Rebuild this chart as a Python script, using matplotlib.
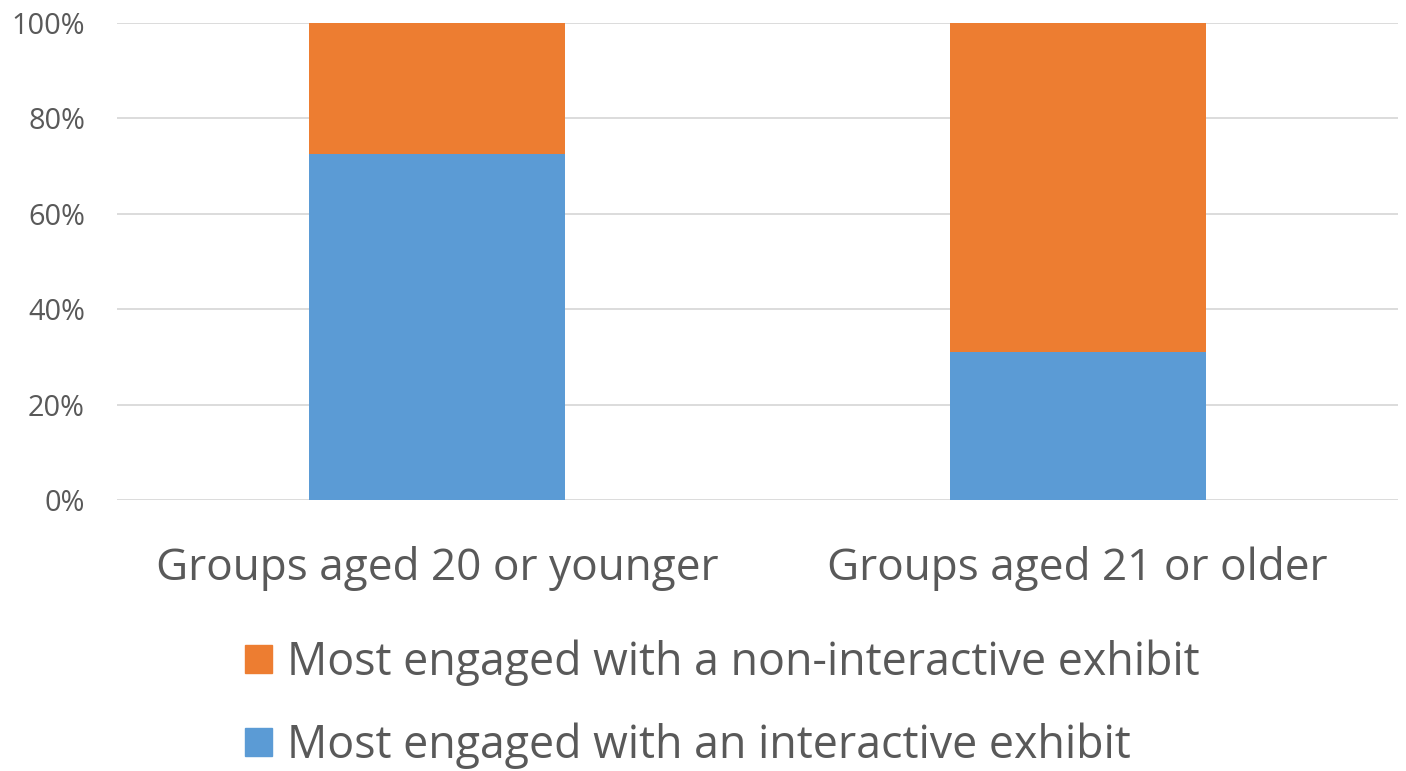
import matplotlib
matplotlib.use("Agg")
import matplotlib.pyplot as plt
from matplotlib.patches import Patch
from matplotlib.ticker import PercentFormatter

categories = ["Groups aged 20 or younger", "Groups aged 21 or older"]
interactive = [72.6, 31.0]
non_interactive = [27.4, 69.0]
series_labels = ["Most engaged with a non-interactive exhibit",
                 "Most engaged with an interactive exhibit"]
yticks = [0, 20, 40, 60, 80, 100]

BLUE = "#5B9BD5"
ORANGE = "#ED7D31"
TXT = "#595959"

plt.rcParams['font.family'] = ['Open Sans', 'DejaVu Sans']

fig = plt.figure(figsize=(14.06, 7.71), dpi=100)
ax = fig.add_axes([0.0832, 0.3515, 0.9111, 0.6187])

x = range(len(categories))
ax.bar(x, interactive, width=0.4, color=BLUE, zorder=3)
ax.bar(x, non_interactive, width=0.4, bottom=interactive, color=ORANGE, zorder=3)

ax.set_xlim(-0.5, 1.5)
ax.set_ylim(0, 100)
ax.set_yticks(yticks)
ax.yaxis.set_major_formatter(PercentFormatter(decimals=0))
ax.set_xticks(list(x))
ax.set_xticklabels(categories, fontsize=31.8, color=TXT)
ax.tick_params(axis='y', labelsize=20.8, colors=TXT, length=0, pad=23)
ax.tick_params(axis='x', length=0, pad=33)
ax.grid(axis='y', color="#d9d9d9", linewidth=1.3, zorder=0)
for s in ax.spines.values():
    s.set_visible(False)

handles = [Patch(color=ORANGE), Patch(color=BLUE)]
fig.legend(handles, series_labels, loc='upper left', bbox_to_anchor=(0.1744, 0.171),
           frameon=False, fontsize=32.2, handlelength=0.6, handleheight=0.6,
           handletextpad=0.34, labelspacing=0.825, labelcolor=TXT,
           borderaxespad=0, borderpad=0)

fig.savefig("out.png", dpi=100, facecolor="white")
